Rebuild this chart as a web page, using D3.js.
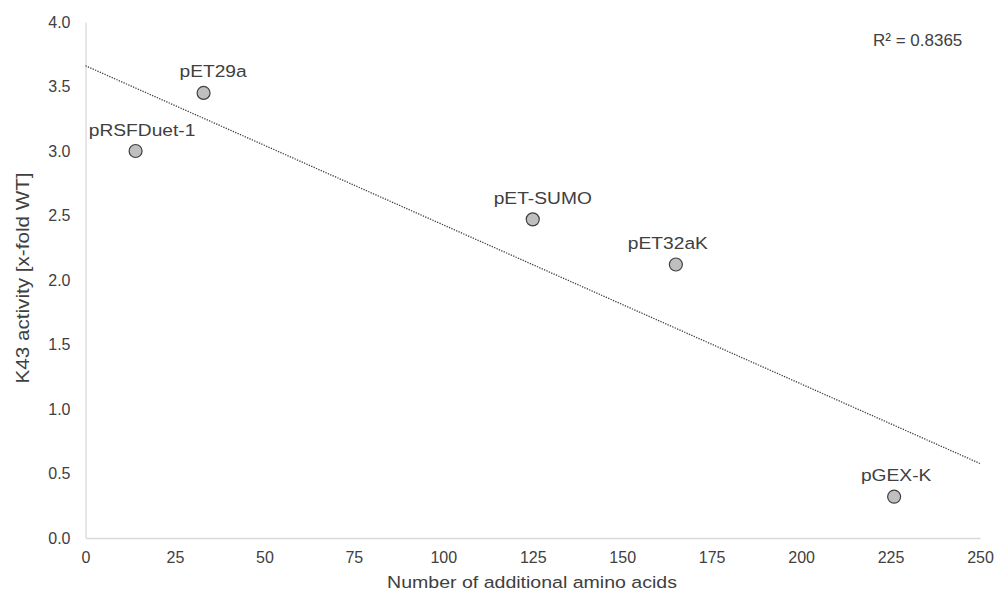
<!DOCTYPE html>
<html>
<head>
<meta charset="utf-8">
<script src="https://d3js.org/d3.v7.min.js"></script>
<style>
  body { margin:0; background:#fff; }
  svg text { font-family: "Liberation Sans", Arial, sans-serif; fill:#404040; }
</style>
</head>
<body>
<div id="chart"></div>
<script>
// data
var vectors = ["pRSFDuet-1", "pET29a", "pET-SUMO", "pET32aK", "pGEX-K"];
var extraAA = [14, 33, 125, 165, 226];
var activity = [3.0, 3.45, 2.47, 2.12, 0.32];
var xTicks = [0, 25, 50, 75, 100, 125, 150, 175, 200, 225, 250];
var yTicks = [0, 0.5, 1.0, 1.5, 2.0, 2.5, 3.0, 3.5, 4.0];
var rSquaredText = "R² = 0.8365";

// label nudges (px) as placed in the original
var labelDx = [6.5, 9.5, 10, -8, 2];

const width = 995, height = 592;
const padLeft = 85.5, padRight = 980, padTop = 22, padBottom = 538;
const wide = 1.13;   // the original font runs a bit wider than Arial

const svg = d3.select("#chart").append("svg")
    .attr("width", width)
    .attr("height", height);

var xScale = d3.scaleLinear().domain([0, 250]).range([padLeft, padRight]);
var yScale = d3.scaleLinear().domain([0, 4]).range([padBottom, padTop]);

var xAxis = d3.axisBottom(xScale).tickValues(xTicks).tickSize(0).tickPadding(14)
    .tickFormat(d3.format("d"));
var yAxis = d3.axisLeft(yScale).tickValues(yTicks).tickSize(0).tickPadding(15)
    .tickFormat(d3.format(".1f"));

var gx = svg.append("g")
    .attr("transform", "translate(0," + padBottom + ")")
    .call(xAxis);
var gy = svg.append("g")
    .attr("transform", "translate(" + padLeft + ",0)")
    .call(yAxis);

[gx, gy].forEach(function(g) {
  g.select(".domain").attr("stroke", "#d9d9d9").attr("stroke-width", 1.3);
  g.selectAll("text").attr("font-size", 16)
      .attr("font-family", "Liberation Sans, Arial, sans-serif")
      .attr("fill", "#404040");
});

// linear trendline from least squares
var n = extraAA.length;
var mx = d3.mean(extraAA), my = d3.mean(activity);
var sxy = 0, sxx = 0;
for (var i = 0; i < n; i++) {
  sxy += (extraAA[i] - mx) * (activity[i] - my);
  sxx += (extraAA[i] - mx) * (extraAA[i] - mx);
}
var slope = sxy / sxx, intercept = my - slope * mx;

svg.append("line")
    .attr("x1", xScale(0))
    .attr("y1", yScale(intercept))
    .attr("x2", xScale(250))
    .attr("y2", yScale(intercept + slope * 250))
    .attr("stroke", "#404040")
    .attr("stroke-width", 1.3)
    .attr("stroke-dasharray", "1.3,1.3");

var pts = vectors.map(function(v, i) {
  return { name: v, x: extraAA[i], y: activity[i], dx: labelDx[i] };
});

svg.selectAll("circle.pt")
    .data(pts)
    .enter()
    .append("circle")
    .attr("class", "pt")
    .attr("cx", function(d) { return xScale(d.x); })
    .attr("cy", function(d) { return yScale(d.y); })
    .attr("r", 6.5)
    .attr("fill", "#bfbfbf")
    .attr("stroke", "#404040")
    .attr("stroke-width", 1.2);

svg.selectAll("text.lbl")
    .data(pts)
    .enter()
    .append("text")
    .attr("class", "lbl")
    .attr("transform", function(d) {
      return "translate(" + (xScale(d.x) + d.dx) + "," + (yScale(d.y) - 15.5) + ") scale(" + wide + ",1)";
    })
    .attr("text-anchor", "middle")
    .attr("font-size", 17)
    .text(function(d) { return d.name; });

svg.append("text")
    .attr("x", 873)
    .attr("y", 46)
    .attr("font-size", 17)
    .text(rSquaredText);

svg.append("text")      // x axis title
    .attr("transform", "translate(532,588) scale(" + (wide + 0.02) + ",1)")
    .attr("text-anchor", "middle")
    .attr("font-size", 17)
    .text("Number of additional amino acids");

svg.append("text")      // y axis title
    .attr("transform", "translate(29,278) rotate(-90) scale(" + (wide + 0.05) + ",1)")
    .attr("text-anchor", "middle")
    .attr("font-size", 17.5)
    .text("K43 activity [x-fold WT]");
</script>
</body>
</html>
